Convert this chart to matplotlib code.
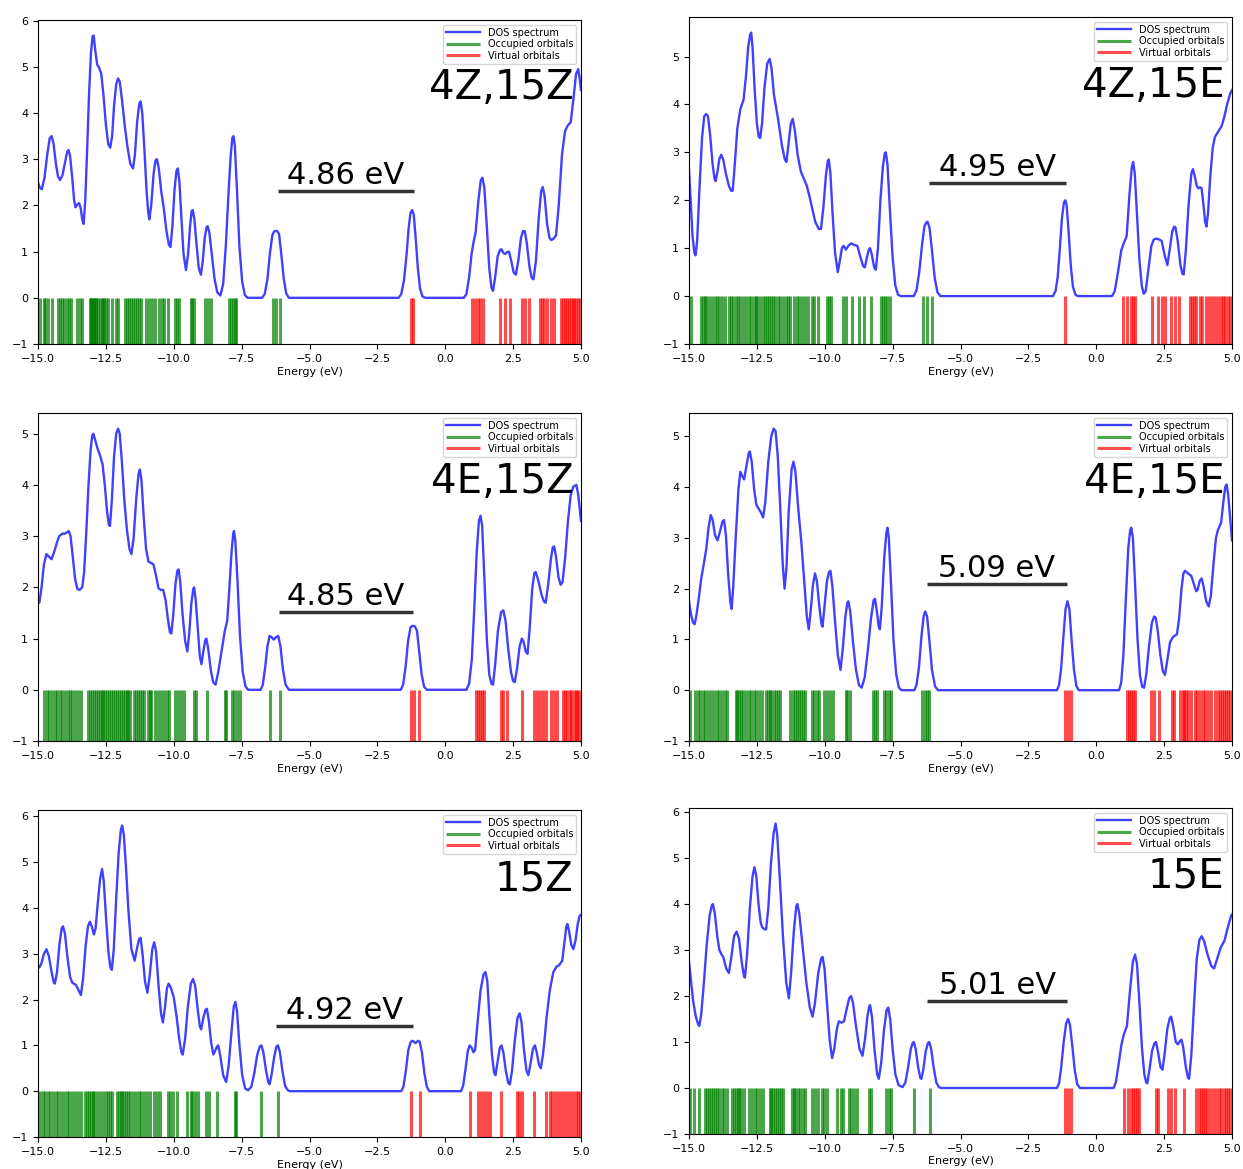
import matplotlib.pyplot as plt

# DOS curves: (energy eV, DOS)
dos_4z15z = [(-15.0, 2.50), (-14.93, 2.38), (-14.86, 2.35), (-14.76, 2.6), (-14.66, 3.1), (-14.57, 3.45), (-14.5, 3.5),
             (-14.43, 3.35), (-14.34, 2.9), (-14.26, 2.62), (-14.19, 2.55), (-14.1, 2.65), (-14.0, 2.95), (-13.93, 3.15),
             (-13.88, 3.2), (-13.82, 3.08), (-13.74, 2.6), (-13.67, 2.12), (-13.62, 1.96), (-13.55, 2.02), (-13.49, 2.05),
             (-13.43, 1.95), (-13.37, 1.7), (-13.32, 1.6), (-13.26, 2.1), (-13.19, 3.2), (-13.12, 4.4), (-13.05, 5.3),
             (-12.99, 5.66), (-12.95, 5.68), (-12.89, 5.35), (-12.82, 5.05), (-12.75, 4.98), (-12.67, 4.85), (-12.59, 4.4),
             (-12.5, 3.75), (-12.41, 3.32), (-12.34, 3.25), (-12.27, 3.5), (-12.2, 4.15), (-12.12, 4.62), (-12.05, 4.75),
             (-11.99, 4.68), (-11.9, 4.25), (-11.8, 3.7), (-11.7, 3.25), (-11.6, 2.9), (-11.5, 2.8), (-11.43, 3.1),
             (-11.35, 3.8), (-11.27, 4.2), (-11.22, 4.25), (-11.16, 4.0), (-11.08, 3.2), (-11.0, 2.3), (-10.94, 1.85),
             (-10.9, 1.7), (-10.83, 2.0), (-10.74, 2.7), (-10.67, 2.98), (-10.62, 3.0), (-10.55, 2.8), (-10.46, 2.3),
             (-10.37, 1.95), (-10.27, 1.45), (-10.18, 1.15), (-10.12, 1.1), (-10.05, 1.55), (-9.97, 2.35), (-9.9, 2.75),
             (-9.85, 2.8), (-9.79, 2.5), (-9.72, 1.75), (-9.64, 0.95), (-9.55, 0.6), (-9.47, 0.95), (-9.4, 1.55),
             (-9.34, 1.88), (-9.3, 1.9), (-9.24, 1.7), (-9.16, 1.15), (-9.08, 0.65), (-9.0, 0.5), (-8.93, 0.8),
             (-8.86, 1.3), (-8.79, 1.53), (-8.75, 1.55), (-8.69, 1.42), (-8.6, 0.95), (-8.5, 0.42), (-8.4, 0.12),
             (-8.28, 0.05), (-8.18, 0.3), (-8.08, 1.15), (-7.98, 2.3), (-7.9, 3.1), (-7.84, 3.47), (-7.8, 3.5),
             (-7.75, 3.3), (-7.67, 2.3), (-7.58, 1.1), (-7.48, 0.35), (-7.38, 0.06), (-7.28, 0.0), (-6.75, 0.0),
             (-6.65, 0.08), (-6.55, 0.4), (-6.46, 0.95), (-6.37, 1.35), (-6.3, 1.44), (-6.2, 1.45), (-6.12, 1.38),
             (-6.04, 0.95), (-5.95, 0.42), (-5.86, 0.1), (-5.76, 0.0), (-1.72, 0.0), (-1.62, 0.08), (-1.52, 0.38),
             (-1.43, 0.9), (-1.35, 1.5), (-1.28, 1.84), (-1.22, 1.9), (-1.16, 1.8), (-1.09, 1.3), (-1.01, 0.65),
             (-0.93, 0.2), (-0.84, 0.03), (-0.74, 0.0), (0.68, 0.0), (0.78, 0.08), (0.88, 0.45), (0.97, 0.95),
             (1.04, 1.2), (1.12, 1.42), (1.22, 2.1), (1.31, 2.55), (1.37, 2.6), (1.44, 2.38), (1.53, 1.55), (1.62, 0.65),
             (1.7, 0.22), (1.76, 0.15), (1.84, 0.45), (1.93, 0.9), (2.02, 1.04), (2.07, 1.05), (2.14, 0.97), (2.21, 0.95),
             (2.28, 0.99), (2.35, 1.0), (2.43, 0.8), (2.52, 0.55), (2.6, 0.5), (2.69, 0.8), (2.79, 1.3), (2.87, 1.45),
             (2.93, 1.44), (3.0, 1.2), (3.1, 0.68), (3.18, 0.44), (3.25, 0.4), (3.34, 0.8), (3.44, 1.7), (3.53, 2.3),
             (3.59, 2.4), (3.66, 2.2), (3.75, 1.6), (3.84, 1.3), (3.91, 1.25), (3.99, 1.28), (4.08, 1.35), (4.18, 2.0),
             (4.3, 3.1), (4.41, 3.6), (4.5, 3.72), (4.62, 3.8), (4.72, 4.3), (4.82, 4.85), (4.9, 4.95), (4.96, 4.7),
             (5.0, 4.5)]
dos_4z15e = [(-15.0, 2.64), (-14.94, 2.0), (-14.87, 1.25), (-14.8, 0.9), (-14.76, 0.85), (-14.7, 1.15), (-14.61, 2.3),
             (-14.52, 3.3), (-14.44, 3.75), (-14.37, 3.8), (-14.3, 3.75), (-14.22, 3.35), (-14.13, 2.75), (-14.06, 2.45),
             (-14.02, 2.4), (-13.95, 2.6), (-13.88, 2.87), (-13.81, 2.95), (-13.74, 2.85), (-13.64, 2.55), (-13.53, 2.3),
             (-13.45, 2.2), (-13.39, 2.2), (-13.32, 2.7), (-13.22, 3.5), (-13.11, 3.9), (-12.99, 4.1), (-12.9, 4.6),
             (-12.82, 5.2), (-12.75, 5.45), (-12.71, 5.5), (-12.66, 5.2), (-12.58, 4.3), (-12.5, 3.6), (-12.43, 3.32),
             (-12.38, 3.3), (-12.31, 3.6), (-12.22, 4.35), (-12.12, 4.85), (-12.03, 4.95), (-11.96, 4.75), (-11.87, 4.2),
             (-11.72, 3.7), (-11.58, 3.15), (-11.47, 2.85), (-11.41, 2.8), (-11.33, 3.2), (-11.25, 3.6), (-11.18, 3.7),
             (-11.1, 3.45), (-11.0, 2.95), (-10.88, 2.6), (-10.77, 2.45), (-10.66, 2.3), (-10.55, 2.05), (-10.45, 1.8),
             (-10.35, 1.55), (-10.22, 1.4), (-10.14, 1.4), (-10.05, 1.85), (-9.96, 2.5), (-9.89, 2.82), (-9.85, 2.85),
             (-9.79, 2.55), (-9.71, 1.7), (-9.62, 0.9), (-9.52, 0.5), (-9.44, 0.75), (-9.37, 1.0), (-9.31, 1.05),
             (-9.22, 0.97), (-9.13, 1.05), (-9.03, 1.1), (-8.93, 1.07), (-8.8, 1.05), (-8.68, 0.8), (-8.58, 0.62),
             (-8.52, 0.6), (-8.45, 0.8), (-8.38, 0.97), (-8.33, 1.0), (-8.26, 0.85), (-8.18, 0.6), (-8.12, 0.55),
             (-8.04, 1.0), (-7.95, 2.0), (-7.86, 2.7), (-7.79, 2.98), (-7.75, 3.0), (-7.69, 2.75), (-7.6, 1.8),
             (-7.5, 0.8), (-7.4, 0.22), (-7.3, 0.03), (-7.2, 0.0), (-6.72, 0.0), (-6.62, 0.12), (-6.52, 0.5),
             (-6.42, 1.05), (-6.33, 1.45), (-6.26, 1.54), (-6.21, 1.55), (-6.14, 1.42), (-6.05, 0.95), (-5.95, 0.38),
             (-5.85, 0.08), (-5.74, 0.0), (-1.6, 0.0), (-1.5, 0.1), (-1.42, 0.4), (-1.34, 1.0), (-1.26, 1.65),
             (-1.19, 1.95), (-1.14, 2.0), (-1.09, 1.9), (-1.02, 1.35), (-0.94, 0.65), (-0.86, 0.2), (-0.77, 0.03),
             (-0.68, 0.0), (0.58, 0.0), (0.68, 0.1), (0.8, 0.5), (0.92, 0.95), (1.01, 1.1), (1.12, 1.25), (1.22, 2.1),
             (1.31, 2.7), (1.36, 2.8), (1.42, 2.55), (1.5, 1.7), (1.59, 0.75), (1.68, 0.2), (1.75, 0.05), (1.82, 0.1),
             (1.92, 0.55), (2.03, 1.05), (2.12, 1.18), (2.2, 1.2), (2.33, 1.18), (2.41, 1.15), (2.52, 0.85),
             (2.62, 0.65), (2.7, 0.95), (2.8, 1.35), (2.87, 1.45), (2.92, 1.43), (3.0, 1.15), (3.1, 0.65), (3.17, 0.47),
             (3.22, 0.45), (3.3, 0.95), (3.4, 1.9), (3.5, 2.55), (3.56, 2.65), (3.63, 2.5), (3.7, 2.3), (3.76, 2.25),
             (3.82, 2.27), (3.88, 2.25), (3.95, 1.9), (4.01, 1.55), (4.06, 1.45), (4.12, 1.75), (4.2, 2.5), (4.29, 3.1),
             (4.37, 3.32), (4.51, 3.45), (4.62, 3.55), (4.72, 3.75), (4.82, 4.0), (4.93, 4.22), (5.0, 4.3)]
dos_4e15z = [(-15.0, 1.75), (-14.95, 1.7), (-14.87, 2.0), (-14.78, 2.45), (-14.69, 2.65), (-14.6, 2.6), (-14.5, 2.55),
             (-14.4, 2.7), (-14.3, 2.88), (-14.22, 3.0), (-14.1, 3.05), (-14.0, 3.05), (-13.87, 3.1), (-13.8, 3.0),
             (-13.72, 2.6), (-13.63, 2.15), (-13.55, 1.97), (-13.47, 1.95), (-13.37, 2.0), (-13.3, 2.3), (-13.22, 3.1),
             (-13.14, 4.0), (-13.06, 4.7), (-13.0, 4.97), (-12.96, 5.0), (-12.88, 4.85), (-12.8, 4.7), (-12.73, 4.6),
             (-12.62, 4.4), (-12.54, 4.0), (-12.46, 3.5), (-12.39, 3.22), (-12.35, 3.2), (-12.28, 3.7), (-12.2, 4.55),
             (-12.12, 5.0), (-12.05, 5.1), (-11.99, 5.0), (-11.91, 4.45), (-11.82, 3.7), (-11.72, 3.1), (-11.63, 2.75),
             (-11.56, 2.65), (-11.48, 2.95), (-11.38, 3.75), (-11.3, 4.2), (-11.25, 4.3), (-11.19, 4.1), (-11.11, 3.4),
             (-11.02, 2.75), (-10.93, 2.5), (-10.84, 2.48), (-10.75, 2.45), (-10.66, 2.25), (-10.56, 1.98),
             (-10.47, 1.95), (-10.39, 1.95), (-10.3, 1.75), (-10.22, 1.4), (-10.14, 1.12), (-10.09, 1.1), (-10.02, 1.45),
             (-9.94, 2.05), (-9.87, 2.32), (-9.82, 2.35), (-9.76, 2.1), (-9.68, 1.5), (-9.58, 0.95), (-9.5, 0.75),
             (-9.43, 1.1), (-9.35, 1.7), (-9.28, 1.97), (-9.25, 2.0), (-9.19, 1.75), (-9.11, 1.15), (-9.04, 0.65),
             (-8.98, 0.5), (-8.91, 0.75), (-8.84, 0.97), (-8.8, 1.0), (-8.73, 0.8), (-8.64, 0.4), (-8.55, 0.15),
             (-8.46, 0.1), (-8.36, 0.35), (-8.24, 0.75), (-8.12, 1.15), (-8.03, 1.35), (-7.95, 2.0), (-7.87, 2.7),
             (-7.81, 3.05), (-7.78, 3.1), (-7.73, 2.9), (-7.65, 2.1), (-7.56, 1.05), (-7.46, 0.35), (-7.36, 0.07),
             (-7.26, 0.0), (-6.8, 0.0), (-6.72, 0.1), (-6.63, 0.45), (-6.55, 0.85), (-6.47, 1.05), (-6.4, 1.03),
             (-6.32, 0.98), (-6.23, 1.03), (-6.15, 1.05), (-6.07, 0.85), (-5.98, 0.4), (-5.88, 0.1), (-5.76, 0.0),
             (-1.64, 0.0), (-1.55, 0.1), (-1.46, 0.45), (-1.37, 0.95), (-1.28, 1.22), (-1.2, 1.25), (-1.12, 1.24),
             (-1.04, 1.15), (-0.96, 0.75), (-0.87, 0.3), (-0.78, 0.06), (-0.68, 0.0), (0.78, 0.0), (0.88, 0.12),
             (0.98, 0.6), (1.07, 1.6), (1.16, 2.7), (1.24, 3.3), (1.3, 3.4), (1.36, 3.2), (1.44, 2.2), (1.53, 1.0),
             (1.62, 0.3), (1.7, 0.12), (1.76, 0.1), (1.84, 0.5), (1.94, 1.15), (2.06, 1.52), (2.14, 1.55), (2.22, 1.35),
             (2.32, 0.8), (2.42, 0.35), (2.5, 0.17), (2.56, 0.15), (2.64, 0.4), (2.74, 0.85), (2.82, 1.0), (2.88, 0.95),
             (2.96, 0.75), (3.03, 0.7), (3.11, 1.2), (3.2, 1.95), (3.28, 2.28), (3.33, 2.3), (3.42, 2.15), (3.55, 1.85),
             (3.64, 1.72), (3.7, 1.7), (3.79, 2.05), (3.89, 2.55), (3.96, 2.78), (4.01, 2.8), (4.08, 2.6), (4.17, 2.2),
             (4.25, 2.05), (4.32, 2.1), (4.42, 2.6), (4.52, 3.3), (4.62, 3.8), (4.72, 3.97), (4.83, 4.0), (4.9, 3.8),
             (4.96, 3.5), (5.0, 3.3)]
dos_4e15e = [(-15.0, 1.75), (-14.93, 1.5), (-14.85, 1.33), (-14.79, 1.3), (-14.72, 1.5), (-14.63, 1.85), (-14.55, 2.2),
             (-14.45, 2.5), (-14.36, 2.8), (-14.28, 3.2), (-14.2, 3.45), (-14.13, 3.35), (-14.04, 3.05), (-13.95, 2.95),
             (-13.86, 3.12), (-13.77, 3.32), (-13.71, 3.35), (-13.64, 3.05), (-13.56, 2.3), (-13.48, 1.75),
             (-13.43, 1.6), (-13.37, 2.05), (-13.28, 3.0), (-13.18, 3.95), (-13.11, 4.3), (-13.04, 4.22), (-12.97, 4.15),
             (-12.89, 4.4), (-12.8, 4.67), (-12.76, 4.7), (-12.69, 4.5), (-12.6, 3.95), (-12.52, 3.65), (-12.43, 3.57),
             (-12.35, 3.5), (-12.27, 3.4), (-12.19, 3.7), (-12.08, 4.5), (-11.97, 5.0), (-11.88, 5.15), (-11.81, 5.1),
             (-11.73, 4.6), (-11.64, 3.6), (-11.55, 2.5), (-11.48, 2.0), (-11.41, 2.4), (-11.33, 3.5), (-11.22, 4.35),
             (-11.15, 4.5), (-11.08, 4.3), (-10.98, 3.6), (-10.86, 2.9), (-10.75, 2.1), (-10.66, 1.45), (-10.59, 1.2),
             (-10.52, 1.55), (-10.44, 2.05), (-10.36, 2.3), (-10.29, 2.15), (-10.2, 1.65), (-10.12, 1.3), (-10.08, 1.25),
             (-10.01, 1.65), (-9.92, 2.15), (-9.84, 2.33), (-9.79, 2.35), (-9.72, 2.05), (-9.62, 1.35), (-9.52, 0.7),
             (-9.42, 0.4), (-9.33, 0.85), (-9.24, 1.45), (-9.17, 1.72), (-9.13, 1.75), (-9.06, 1.55), (-8.96, 0.95),
             (-8.85, 0.4), (-8.74, 0.1), (-8.64, 0.05), (-8.53, 0.25), (-8.42, 0.75), (-8.3, 1.4), (-8.2, 1.77),
             (-8.15, 1.8), (-8.08, 1.55), (-8.01, 1.25), (-7.97, 1.2), (-7.9, 1.65), (-7.81, 2.6), (-7.73, 3.1),
             (-7.69, 3.2), (-7.64, 3.0), (-7.56, 2.1), (-7.47, 1.0), (-7.37, 0.32), (-7.27, 0.05), (-7.17, 0.0),
             (-6.7, 0.0), (-6.62, 0.1), (-6.53, 0.45), (-6.44, 1.05), (-6.36, 1.45), (-6.3, 1.55), (-6.23, 1.45),
             (-6.15, 1.0), (-6.05, 0.4), (-5.94, 0.08), (-5.83, 0.0), (-1.45, 0.0), (-1.37, 0.1), (-1.29, 0.45),
             (-1.21, 1.05), (-1.13, 1.6), (-1.06, 1.75), (-0.99, 1.6), (-0.91, 1.0), (-0.82, 0.4), (-0.73, 0.08),
             (-0.64, 0.0), (0.84, 0.0), (0.92, 0.15), (1.0, 0.7), (1.09, 1.8), (1.18, 2.8), (1.25, 3.15), (1.29, 3.2),
             (1.35, 3.0), (1.43, 2.1), (1.52, 1.0), (1.61, 0.3), (1.69, 0.07), (1.76, 0.05), (1.84, 0.3), (1.94, 0.85),
             (2.05, 1.33), (2.13, 1.45), (2.19, 1.43), (2.27, 1.15), (2.36, 0.7), (2.45, 0.38), (2.53, 0.3), (2.62, 0.6),
             (2.72, 0.95), (2.83, 1.05), (2.97, 1.1), (3.05, 1.4), (3.14, 2.0), (3.21, 2.3), (3.27, 2.35), (3.38, 2.3),
             (3.5, 2.25), (3.6, 2.08), (3.68, 1.95), (3.73, 1.97), (3.81, 2.15), (3.88, 2.2), (3.95, 2.05), (4.05, 1.75),
             (4.14, 1.65), (4.22, 1.85), (4.32, 2.5), (4.41, 3.0), (4.48, 3.15), (4.6, 3.3), (4.68, 3.7), (4.75, 4.0),
             (4.8, 4.05), (4.86, 3.85), (4.93, 3.4), (5.0, 2.95)]
dos_15z = [(-15.0, 2.75), (-14.95, 2.7), (-14.88, 2.78), (-14.78, 3.0), (-14.69, 3.1), (-14.6, 2.95), (-14.5, 2.6),
           (-14.42, 2.38), (-14.38, 2.35), (-14.3, 2.6), (-14.21, 3.2), (-14.13, 3.55), (-14.08, 3.6), (-14.01, 3.45),
           (-13.92, 2.95), (-13.82, 2.5), (-13.74, 2.37), (-13.6, 2.32), (-13.5, 2.2), (-13.42, 2.1), (-13.34, 2.45),
           (-13.25, 3.15), (-13.16, 3.6), (-13.09, 3.7), (-13.02, 3.6), (-12.94, 3.42), (-12.88, 3.55), (-12.8, 4.1),
           (-12.71, 4.65), (-12.64, 4.85), (-12.58, 4.6), (-12.49, 3.75), (-12.4, 3.0), (-12.33, 2.7), (-12.28, 2.65),
           (-12.21, 3.1), (-12.12, 4.2), (-12.03, 5.2), (-11.95, 5.7), (-11.9, 5.8), (-11.84, 5.6), (-11.76, 4.9),
           (-11.67, 3.95), (-11.56, 3.1), (-11.44, 2.85), (-11.36, 3.1), (-11.28, 3.32), (-11.22, 3.35), (-11.15, 3.0),
           (-11.06, 2.4), (-10.97, 2.15), (-10.89, 2.5), (-10.79, 3.1), (-10.72, 3.25), (-10.65, 3.05), (-10.56, 2.3),
           (-10.47, 1.7), (-10.4, 1.5), (-10.32, 1.85), (-10.25, 2.25), (-10.19, 2.35), (-10.1, 2.25), (-10.0, 2.05),
           (-9.9, 1.65), (-9.8, 1.15), (-9.72, 0.85), (-9.67, 0.8), (-9.58, 1.15), (-9.48, 1.85), (-9.37, 2.35),
           (-9.29, 2.45), (-9.21, 2.3), (-9.12, 1.8), (-9.04, 1.42), (-8.99, 1.35), (-8.91, 1.6), (-8.83, 1.78),
           (-8.78, 1.8), (-8.71, 1.55), (-8.62, 1.05), (-8.54, 0.8), (-8.46, 0.9), (-8.4, 0.98), (-8.36, 1.0),
           (-8.28, 0.75), (-8.18, 0.35), (-8.07, 0.2), (-7.98, 0.55), (-7.88, 1.25), (-7.79, 1.85), (-7.73, 1.95),
           (-7.67, 1.75), (-7.58, 1.0), (-7.48, 0.35), (-7.37, 0.06), (-7.26, 0.02), (-7.14, 0.1), (-7.03, 0.4),
           (-6.93, 0.78), (-6.83, 0.98), (-6.77, 1.0), (-6.7, 0.85), (-6.6, 0.45), (-6.52, 0.2), (-6.47, 0.15),
           (-6.4, 0.35), (-6.3, 0.75), (-6.22, 0.97), (-6.16, 1.0), (-6.09, 0.85), (-6.0, 0.45), (-5.9, 0.12),
           (-5.8, 0.02), (-5.72, 0.0), (-1.62, 0.0), (-1.54, 0.1), (-1.45, 0.45), (-1.36, 0.9), (-1.27, 1.08),
           (-1.2, 1.1), (-1.1, 1.05), (-1.0, 1.1), (-0.94, 1.08), (-0.86, 0.85), (-0.77, 0.4), (-0.68, 0.1),
           (-0.59, 0.0), (0.58, 0.0), (0.66, 0.12), (0.75, 0.5), (0.83, 0.88), (0.9, 1.0), (0.97, 0.95), (1.04, 0.85),
           (1.1, 0.9), (1.19, 1.5), (1.3, 2.2), (1.41, 2.55), (1.48, 2.6), (1.55, 2.4), (1.63, 1.6), (1.72, 0.8),
           (1.8, 0.4), (1.85, 0.35), (1.93, 0.65), (2.01, 0.95), (2.07, 1.0), (2.14, 0.85), (2.23, 0.45), (2.32, 0.18),
           (2.38, 0.15), (2.46, 0.45), (2.56, 1.1), (2.66, 1.6), (2.74, 1.7), (2.81, 1.5), (2.9, 0.9), (2.99, 0.45),
           (3.06, 0.35), (3.14, 0.6), (3.23, 0.92), (3.3, 1.0), (3.37, 0.85), (3.45, 0.58), (3.52, 0.5), (3.6, 0.8),
           (3.67, 1.2), (3.73, 1.6), (3.85, 2.2), (3.98, 2.6), (4.1, 2.72), (4.19, 2.75), (4.31, 2.85), (4.4, 3.3),
           (4.46, 3.6), (4.5, 3.65), (4.56, 3.5), (4.64, 3.2), (4.72, 3.1), (4.8, 3.3), (4.88, 3.65), (4.95, 3.83),
           (5.0, 3.85)]
dos_15e = [(-15.0, 2.75), (-14.93, 2.35), (-14.85, 1.9), (-14.75, 1.55), (-14.66, 1.38), (-14.62, 1.35), (-14.55, 1.6),
           (-14.45, 2.3), (-14.35, 3.1), (-14.24, 3.75), (-14.16, 3.97), (-14.12, 4.0), (-14.05, 3.8), (-13.96, 3.3),
           (-13.88, 3.0), (-13.8, 2.9), (-13.74, 2.85), (-13.63, 2.6), (-13.53, 2.5), (-13.44, 2.85), (-13.34, 3.3),
           (-13.25, 3.4), (-13.16, 3.25), (-13.05, 2.7), (-12.97, 2.42), (-12.94, 2.4), (-12.86, 2.9), (-12.76, 3.9),
           (-12.66, 4.6), (-12.59, 4.8), (-12.52, 4.6), (-12.44, 4.0), (-12.36, 3.6), (-12.31, 3.5), (-12.22, 3.45),
           (-12.16, 3.45), (-12.08, 3.9), (-11.98, 4.9), (-11.88, 5.55), (-11.81, 5.75), (-11.75, 5.5), (-11.65, 4.5),
           (-11.54, 3.3), (-11.42, 2.3), (-11.32, 1.95), (-11.24, 2.5), (-11.14, 3.4), (-11.05, 3.95), (-11.01, 4.0),
           (-10.94, 3.8), (-10.8, 3.0), (-10.68, 2.3), (-10.55, 1.75), (-10.45, 1.55), (-10.36, 1.85), (-10.24, 2.5),
           (-10.13, 2.82), (-10.08, 2.85), (-10.01, 2.6), (-9.92, 1.85), (-9.82, 1.05), (-9.73, 0.65), (-9.65, 0.85),
           (-9.55, 1.3), (-9.48, 1.45), (-9.38, 1.42), (-9.29, 1.45), (-9.2, 1.7), (-9.1, 1.95), (-9.03, 2.0),
           (-8.96, 1.85), (-8.85, 1.35), (-8.72, 0.85), (-8.61, 0.7), (-8.52, 1.05), (-8.43, 1.55), (-8.36, 1.78),
           (-8.33, 1.8), (-8.26, 1.55), (-8.17, 0.85), (-8.07, 0.3), (-8.01, 0.2), (-7.92, 0.55), (-7.82, 1.25),
           (-7.72, 1.7), (-7.66, 1.75), (-7.59, 1.5), (-7.5, 0.85), (-7.4, 0.3), (-7.28, 0.06), (-7.13, 0.02),
           (-7.03, 0.12), (-6.93, 0.45), (-6.83, 0.85), (-6.76, 0.98), (-6.72, 1.0), (-6.65, 0.85), (-6.56, 0.45),
           (-6.48, 0.22), (-6.44, 0.2), (-6.37, 0.4), (-6.28, 0.8), (-6.2, 0.98), (-6.15, 1.0), (-6.08, 0.85),
           (-5.99, 0.45), (-5.89, 0.12), (-5.8, 0.02), (-5.72, 0.0), (-1.45, 0.0), (-1.37, 0.1), (-1.29, 0.45),
           (-1.2, 1.0), (-1.11, 1.4), (-1.04, 1.5), (-0.97, 1.38), (-0.88, 0.9), (-0.79, 0.38), (-0.7, 0.08),
           (-0.6, 0.0), (0.64, 0.0), (0.72, 0.12), (0.82, 0.5), (0.93, 0.95), (1.01, 1.15), (1.13, 1.35), (1.24, 2.1),
           (1.35, 2.75), (1.43, 2.9), (1.5, 2.7), (1.59, 1.85), (1.68, 0.9), (1.77, 0.3), (1.84, 0.12), (1.88, 0.1),
           (1.96, 0.4), (2.06, 0.82), (2.15, 0.98), (2.2, 1.0), (2.27, 0.8), (2.37, 0.45), (2.44, 0.4), (2.52, 0.75),
           (2.62, 1.3), (2.71, 1.52), (2.76, 1.55), (2.83, 1.35), (2.93, 1.0), (3.01, 0.95), (3.08, 1.02), (3.14, 1.05),
           (3.2, 0.9), (3.3, 0.45), (3.38, 0.22), (3.42, 0.2), (3.5, 0.7), (3.6, 1.8), (3.7, 2.8), (3.8, 3.22),
           (3.88, 3.3), (3.97, 3.2), (4.1, 2.9), (4.24, 2.65), (4.34, 2.6), (4.45, 2.8), (4.58, 3.05), (4.72, 3.2),
           (4.85, 3.5), (4.97, 3.75), (5.0, 3.77)]

# orbital energies (eV) read from the stick rows
occ_4z15z = [-14.93, -14.79, -14.73, -14.62, -14.48, -14.26, -14.19, -14.12, -14.05, -13.94, -13.84, -13.77, -13.56,
             -13.44, -13.37, -13.09, -13.06, -13.03, -12.98, -12.95, -12.92, -12.88, -12.85, -12.78, -12.71, -12.64,
             -12.6, -12.57, -12.5, -12.43, -12.26, -12.14, -12.04, -11.79, -11.72, -11.65, -11.58, -11.51, -11.44,
             -11.34, -11.27, -11.2, -11.01, -10.91, -10.8, -10.69, -10.54, -10.45, -10.37, -10.23, -9.95, -9.88, -9.81,
             -9.38, -9.31, -9.24, -8.85, -8.75, -8.61, -7.97, -7.9, -7.83, -7.76, -7.69, -6.34, -6.22, -6.1]
virt_4z15z = [-1.25, -1.18, 0.98, 1.08, 1.22, 1.29, 1.39, 2.0, 2.19, 2.4, 2.81, 2.92, 3.07, 3.49, 3.56, 3.63, 3.74,
              3.91, 4.02, 4.26, 4.34, 4.4, 4.48, 4.55, 4.62, 4.69, 4.76, 4.83, 4.9, 4.97]
occ_4z15e = [-14.93, -14.55, -14.48, -14.41, -14.37, -14.26, -14.16, -14.06, -13.98, -13.88, -13.78, -13.67, -13.53,
             -13.46, -13.39, -13.28, -13.18, -13.11, -13.0, -12.9, -12.8, -12.72, -12.62, -12.55, -12.48, -12.38,
             -12.27, -12.2, -12.13, -12.06, -11.99, -11.92, -11.85, -11.74, -11.64, -11.55, -11.43, -11.36, -11.27,
             -11.15, -11.04, -10.94, -10.85, -10.73, -10.62, -10.48, -10.38, -10.24, -9.9, -9.83, -9.78, -9.34, -9.2,
             -8.99, -8.75, -8.57, -8.29, -7.94, -7.84, -7.77, -7.69, -7.59, -6.37, -6.23, -6.05]
virt_4z15e = [-1.15, 0.99, 1.13, 1.29, 1.36, 1.43, 2.06, 2.27, 2.41, 2.55, 2.76, 2.9, 3.04, 3.46, 3.53, 3.6, 3.67, 3.81,
              3.88, 4.06, 4.16, 4.27, 4.37, 4.47, 4.58, 4.68, 4.76, 4.86, 4.93]
occ_4e15z = [-14.79, -14.67, -14.58, -14.48, -14.36, -14.29, -14.19, -14.11, -14.01, -13.91, -13.82, -13.73, -13.65,
             -13.51, -13.4, -13.16, -13.09, -13.02, -12.95, -12.88, -12.8, -12.73, -12.66, -12.59, -12.52, -12.45,
             -12.38, -12.31, -12.24, -12.17, -12.1, -12.03, -11.95, -11.88, -11.81, -11.74, -11.67, -11.6, -11.46,
             -11.39, -11.32, -11.25, -11.18, -11.1, -10.96, -10.89, -10.82, -10.68, -10.57, -10.47, -10.37, -10.25,
             -10.18, -9.94, -9.83, -9.72, -9.62, -9.26, -9.19, -8.77, -8.13, -8.06, -7.85, -7.78, -7.68, -7.56, -6.47,
             -6.08]
virt_4e15z = [-1.26, -1.15, -0.98, 1.15, 1.22, 1.29, 1.36, 1.43, 2.07, 2.14, 2.28, 2.82, 3.27, 3.37, 3.48, 3.6, 3.7,
              3.91, 4.02, 4.12, 4.33, 4.41, 4.48, 4.58, 4.65, 4.73, 4.8, 4.87, 4.94]
occ_4e15e = [-14.96, -14.79, -14.68, -14.58, -14.48, -14.4, -14.3, -14.2, -14.09, -13.98, -13.88, -13.78, -13.67, -13.6,
             -13.28, -13.22, -13.14, -13.08, -13.0, -12.9, -12.8, -12.72, -12.62, -12.52, -12.41, -12.3, -12.16, -12.09,
             -12.02, -11.97, -11.88, -11.81, -11.71, -11.64, -11.27, -11.18, -11.11, -11.01, -10.94, -10.87, -10.8,
             -10.73, -10.48, -10.38, -10.27, -10.2, -10.03, -9.92, -9.8, -9.69, -9.22, -9.17, -9.08, -8.22, -8.15,
             -8.08, -7.83, -7.73, -7.63, -7.56, -6.4, -6.3, -6.22, -6.15]
virt_4e15e = [-1.15, -1.04, -0.94, 1.13, 1.2, 1.27, 1.34, 1.43, 2.03, 2.13, 2.31, 2.8, 2.87, 3.08, 3.18, 3.25, 3.32,
              3.39, 3.5, 3.62, 3.71, 3.81, 3.92, 4.02, 4.12, 4.23, 4.37, 4.47, 4.55, 4.65, 4.72, 4.79, 4.86, 4.93]
occ_15z = [-14.93, -14.83, -14.73, -14.65, -14.55, -14.45, -14.34, -14.26, -14.15, -14.05, -13.94, -13.84, -13.74,
           -13.63, -13.51, -13.42, -13.27, -13.2, -13.13, -13.06, -12.99, -12.92, -12.81, -12.71, -12.61, -12.5, -12.43,
           -12.36, -12.28, -12.1, -12.03, -11.96, -11.9, -11.83, -11.76, -11.69, -11.62, -11.51, -11.39, -11.29, -11.2,
           -11.08, -10.97, -10.87, -10.73, -10.63, -10.52, -10.23, -10.12, -10.02, -9.88, -9.53, -9.38, -9.31, -9.21,
           -9.1, -8.82, -8.71, -8.4, -7.76, -7.69, -6.77, -6.16]
virt_15z = [-1.25, -0.94, 0.9, 1.22, 1.33, 1.43, 1.53, 1.64, 2.07, 2.64, 2.71, 2.81, 3.27, 3.7, 3.84, 3.94, 4.05, 4.16,
            4.26, 4.36, 4.48, 4.58, 4.69, 4.8, 4.9, 4.97]
occ_15e = [-14.96, -14.82, -14.65, -14.4, -14.33, -14.26, -14.19, -14.12, -14.06, -13.98, -13.88, -13.78, -13.7, -13.6,
           -13.42, -13.36, -13.28, -13.21, -13.14, -13.07, -12.97, -12.8, -12.69, -12.58, -12.48, -12.38, -12.27,
           -12.02, -11.97, -11.9, -11.83, -11.76, -11.69, -11.62, -11.55, -11.22, -11.15, -11.08, -10.99, -10.9, -10.8,
           -10.73, -10.48, -10.36, -10.24, -10.1, -10.01, -9.92, -9.55, -9.41, -9.31, -9.1, -9.03, -8.92, -8.8, -8.38,
           -8.29, -7.73, -7.63, -7.55, -6.72, -6.14]
virt_15e = [-1.15, -1.04, -0.92, 1.01, 1.18, 1.29, 1.36, 1.43, 1.5, 1.57, 2.2, 2.27, 2.66, 2.76, 2.9, 3.22, 3.69, 3.78,
            3.85, 3.92, 3.99, 4.09, 4.2, 4.3, 4.4, 4.51, 4.61, 4.69, 4.79, 4.86, 4.93]

names = ['4Z,15Z', '4Z,15E', '4E,15Z', '4E,15E', '15Z', '15E']
gap_labels = ['4.86 eV', '4.95 eV', '4.85 eV', '5.09 eV', '4.92 eV', '5.01 eV']
gap_start = [-6.17, -6.15, -6.12, -6.23, -6.22, -6.23]
gap_end = [-1.14, -1.11, -1.19, -1.08, -1.18, -1.06]
gap_level = [2.31, 2.36, 1.52, 2.09, 1.42, 1.89]

panels = [(dos_4z15z, occ_4z15z, virt_4z15z), (dos_4z15e, occ_4z15e, virt_4z15e),
          (dos_4e15z, occ_4e15z, virt_4e15z), (dos_4e15e, occ_4e15e, virt_4e15e),
          (dos_15z, occ_15z, virt_15z), (dos_15e, occ_15e, virt_15e)]

W, H = 1243, 1169
# axes boxes in pixels: left, top, right, bottom
boxes = [(38, 20, 581, 344), (689, 17, 1232, 344),
         (38, 413, 581, 741), (689, 413, 1232, 741),
         (38, 810, 581, 1137), (689, 808, 1232, 1134)]

fig = plt.figure(figsize=(W / 100, H / 100), dpi=100)

for i, (dos, occ, virt) in enumerate(panels):
    l, t, r, b = boxes[i]
    ax = fig.add_axes([l / W, 1 - b / H, (r - l) / W, (b - t) / H])
    e, d = zip(*dos)
    ax.plot(e, d, color='blue', lw=1.7, alpha=0.75, label='DOS spectrum')
    ax.vlines(occ, -1, 0, colors='green', lw=2.2, alpha=0.7, label='Occupied orbitals')
    ax.vlines(virt, -1, 0, colors='red', lw=2.2, alpha=0.7, label='Virtual orbitals')
    ax.set_xlim(-15, 5)
    ax.set_ylim(bottom=-1)
    ax.tick_params(labelsize=8)
    ax.set_xlabel('Energy (eV)', fontsize=8, labelpad=2)

    ax.plot([gap_start[i], gap_end[i]], [gap_level[i], gap_level[i]], color='#333333', lw=2.5,
            solid_capstyle='butt')
    ax.annotate(gap_labels[i], xy=((gap_start[i] + gap_end[i]) / 2, gap_level[i]), xytext=(0, 5),
                textcoords='offset points', ha='center', va='baseline', fontsize=22)
    ax.text(0.986, 0.755, names[i], transform=ax.transAxes, ha='right', va='baseline', fontsize=29)

    ax.legend(loc='upper right', fontsize=7, handlelength=3.5, labelspacing=0.15, borderpad=0.3)

fig.savefig('out.png', dpi=100)
